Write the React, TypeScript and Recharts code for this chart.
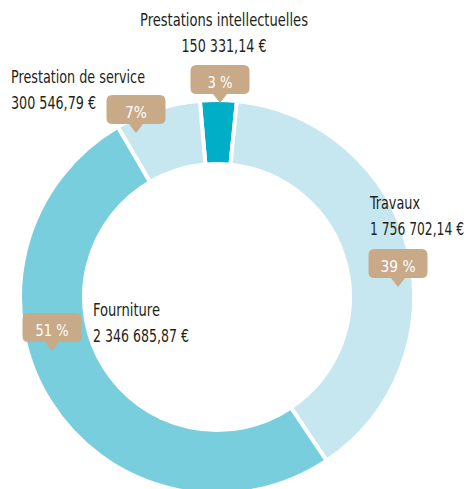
import React from 'react';
import { PieChart, Pie, Cell } from 'recharts';

// ---- data ----
const categories = ['Prestations intellectuelles', 'Travaux', 'Fourniture', 'Prestation de service'];
const amountLabels = ['150 331,14 €', '1 756 702,14 €', '2 346 685,87 €', '300 546,79 €'];
const percents = [3, 39, 51, 7];
const percentLabels = ['3 %', '39 %', '51 %', '7%'];

// ---- style / layout ----
const COLORS = ['#00AEC7', '#C6E7EF', '#78CEDC', '#C6E7EF'];
const BUBBLE = '#C8A988';
const TEXT = '#231F20';
const FONT = "'DejaVu Sans', sans-serif";
const CX = 217;
const CY = 297;

// offsets relative to the pie centre, plus rendered text widths
const LABEL_LAYOUT = [
  { tip: [3, -194], text: [7, -271], anchor: 'middle', wName: 168, wAmt: 85, wPct: 25 },
  { tip: [181, -10], text: [153, -88], anchor: 'start', wName: 50, wAmt: 94, wPct: 35 },
  { tip: [-165, 54], text: [-124, 19], anchor: 'start', wName: 67, wAmt: 96, wPct: 33 },
  { tip: [-81, -164], text: [-206, -214], anchor: 'start', wName: 134, wAmt: 85, wPct: 22 },
];

const data = categories.map((name, i) => ({ name, value: percents[i] }));

const BW = 59;
const BH = 29;
const PH = 9;

function SliceLabel(props: any) {
  const { index } = props;
  const cx = props.cx ?? CX;
  const cy = props.cy ?? CY;
  const lay = LABEL_LAYOUT[index];
  if (!lay) return null;
  const tx = cx + lay.tip[0];
  const ty = cy + lay.tip[1];
  const left = tx - BW / 2;
  const top = ty - PH - BH;
  const r = 6;
  const bottom = top + BH;
  const right = left + BW;
  const path = `M${left + r},${top} H${right - r} Q${right},${top} ${right},${top + r} V${bottom - r} Q${right},${bottom} ${right - r},${bottom} H${tx + 7} L${tx},${ty} L${tx - 7},${bottom} H${left + r} Q${left},${bottom} ${left},${bottom - r} V${top + r} Q${left},${top} ${left + r},${top} Z`;
  const nx = cx + lay.text[0];
  const ny = cy + lay.text[1];
  const common = {
    fontFamily: FONT,
    style: { fontStretch: 'condensed' } as React.CSSProperties,
    lengthAdjust: 'spacingAndGlyphs',
  };
  return (
    <g>
      <path d={path} fill={BUBBLE} stroke="none" />
      <text {...common} x={tx} y={bottom - 6} textAnchor="middle" fill="#FFFFFF" fontSize={16} textLength={lay.wPct}>
        {percentLabels[index]}
      </text>
      <text {...common} x={nx} y={ny} textAnchor={lay.anchor as any} fill={TEXT} fontSize={17.5} textLength={lay.wName}>
        {categories[index]}
      </text>
      <text {...common} x={nx} y={ny + 26} textAnchor={lay.anchor as any} fill={TEXT} fontSize={17.5} textLength={lay.wAmt}>
        {amountLabels[index]}
      </text>
    </g>
  );
}

export default function App() {
  return (
    <div style={{ position: 'absolute', left: 0, top: 0, width: 469, height: 489, background: '#fff' }}>
      <PieChart width={469} height={489} margin={{ top: 0, right: 0, bottom: 0, left: 0 }}>
        <Pie
          data={data}
          dataKey="value"
          nameKey="name"
          cx={CX}
          cy={CY}
          innerRadius={133}
          outerRadius={197}
          startAngle={95}
          endAngle={-265}
          stroke="#FFFFFF"
          strokeWidth={4}
          isAnimationActive={false}
          labelLine={false}
          label={(p: any) => <SliceLabel {...p} />}
        >
          {data.map((d, i) => (
            <Cell key={d.name} fill={COLORS[i]} />
          ))}
        </Pie>
      </PieChart>
    </div>
  );
}
